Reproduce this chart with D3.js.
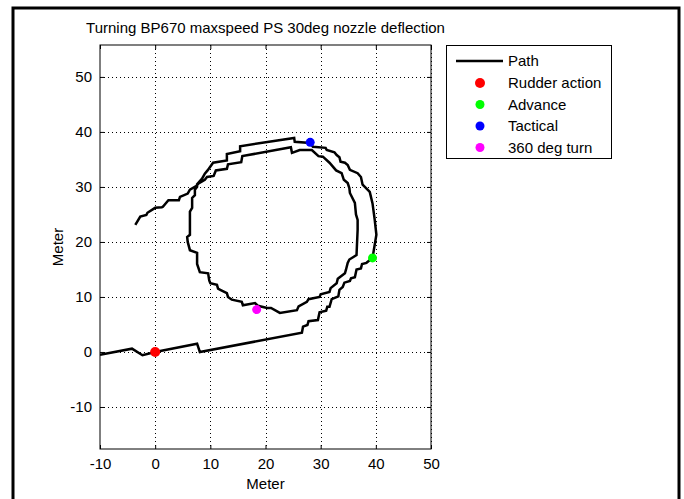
<!DOCTYPE html>
<html>
<head>
<meta charset="utf-8">
<script src="https://cdn.jsdelivr.net/npm/d3@7"></script>
<style>
  body { margin: 0; background: #fff; }
  svg text { font-family: "Liberation Sans", Arial, sans-serif; fill: #000; }
</style>
</head>
<body>
<div id="chart"></div>
<script>
// path of the ship, in metres (x, y)
var pathX = [-10, -4.2, -2.3, 0, 7.6, 8.1, 26.6, 26.8, 27.6, 27.8, 29.5, 29.8, 31, 31.2, 31.6, 32, 33.2, 33.4, 34, 34.3, 35.3, 35.5, 36.2, 36.5, 37.3, 37.5, 38.3, 39.4,
  40.1, 39.8, 39.4, 38.9, 37.6, 37.3, 36.7, 35.3, 34.9, 34.4, 33.6, 33.4, 32.9, 32.5, 31.1, 30.9, 28.6, 28.1, 25.3, 25.2, 15.4, 15.4, 13, 13, 10.5, 9.5, 9, 8.5, 7.6, 7.6, 7.2, 7.2, 6.7, 6.7, 6.3, 6.3, 5.8, 5.9, 6.3, 7.6, 7.6, 8.1, 9.6, 9.8, 10, 11.2, 11.4, 11.8, 13, 13.2, 13.9, 15.7, 15.9, 18.1, 18.6, 20.3, 21, 22.6, 25.7, 26, 27.5, 27.8, 29.8, 30, 31.6, 31.8, 32.9, 33.1, 34.4, 34.6, 34.9, 35.2, 36.5, 36.7, 36.7, 36.4, 36.2, 35.3, 35.2, 34.9, 34.2, 33.8, 32.8, 31.6, 30.4, 29.6, 28.4, 26.2, 24.8, 24.6, 15.8, 15.6, 13.2, 13, 11, 10.6, 9.4, 9, 7.8, 7.5, 6.3, 5.9, 4.5, 4.3, 2.4, 1.4, 1.2, 0, -1.4, -1.6, -2.7, -3.6];
var pathY = [-0.5, 0.6, -0.6, 0, 1.5, 0, 3.5, 4.6, 4.9, 5.6, 5.8, 7.2, 7.5, 8.2, 8.2, 9.6, 10.1, 11.3, 11.8, 12.6, 12.9, 13.4, 13.6, 15, 15.2, 16, 16.2, 17.1,
  21.3, 24, 27, 29.1, 30.4, 31.8, 32.5, 33.1, 34, 34.4, 34.6, 35.4, 35.8, 36.3, 36.7, 37.1, 37.3, 38, 38.2, 38.9, 37.4, 36.5, 36, 34.8, 34.4, 33, 32.4, 31.5, 30.5, 30, 29.5, 28.5, 28, 26.2, 25.5, 21.3, 20.9, 20, 18.5, 18, 16, 14.5, 14.3, 13, 12.5, 12.2, 11.5, 11.3, 10.7, 10, 9.5, 9.1, 8.5, 8.9, 8.4, 8, 8, 7.1, 7.6, 8.3, 9.1, 9.6, 10, 10.5, 10.9, 11.6, 12.5, 13.3, 14.3, 15, 16.2, 16.8, 17.6, 22.2, 24, 25, 27.1, 28.9, 29.8, 30.7, 31.3, 32.5, 33, 34.4, 35.5, 35.6, 36.7, 36.7, 36.2, 37.2, 35.6, 34.5, 34.1, 33.3, 33, 32, 31.8, 31.3, 30.6, 30.2, 29.5, 28.8, 28.2, 27.6, 27.6, 26.4, 26.3, 26.2, 25.3, 24.9, 24.6, 23.1];

var eventNames = ["Rudder action", "Advance", "Tactical", "360 deg turn"];
var eventX = [0, 39.4, 28.1, 18.4];
var eventY = [0, 17.1, 38.1, 7.7];
var eventColors = ["#ff0000", "#00ff00", "#0000ff", "#ff00ff"];

var xTicks = [-10, 0, 10, 20, 30, 40, 50];
var yTicks = [-10, 0, 10, 20, 30, 40, 50];

var W = 684, H = 499, FS = "15px";
var svg = d3.select("#chart").append("svg").attr("width", W).attr("height", H);

// figure frame
svg.append("rect").attr("x", 13).attr("y", 8).attr("width", 666).attr("height", 500)
  .attr("fill", "#fff").attr("stroke", "#000").attr("stroke-width", 3);

var pL = 100, pR = 431, pT = 45, pB = 449;
var x = d3.scaleLinear().domain([-10, 50]).range([pL, pR]);
var y = d3.scaleLinear().domain([-17.64, 55.8]).range([pB, pT]);
var fmt = function(d) { return String(d); };

// grid
var grid = svg.append("g");
grid.selectAll(".gx").data(xTicks.slice(1)).enter().append("line")
  .attr("x1", d => Math.round(x(d)) + 0.5).attr("x2", d => Math.round(x(d)) + 0.5).attr("y1", pT).attr("y2", pB)
  .attr("stroke", "#000").attr("stroke-width", 1).attr("stroke-dasharray", "1,3");
grid.selectAll(".gy").data(yTicks).enter().append("line")
  .attr("y1", d => Math.round(y(d)) + 0.5).attr("y2", d => Math.round(y(d)) + 0.5).attr("x1", pL).attr("x2", pR)
  .attr("stroke", "#000").attr("stroke-width", 1).attr("stroke-dasharray", "1,3");

svg.append("clipPath").attr("id", "plotclip").append("rect")
  .attr("x", pL).attr("y", pT).attr("width", pR - pL).attr("height", pB - pT);

// axes with inward ticks on all sides
var gxB = svg.append("g").attr("transform", "translate(0," + pB + ")")
  .call(d3.axisBottom(x).tickValues(xTicks).tickSizeInner(-4).tickSizeOuter(0).tickPadding(9).tickFormat(fmt));
var gxT = svg.append("g").attr("transform", "translate(0," + pT + ")")
  .call(d3.axisTop(x).tickValues(xTicks).tickSizeInner(-4).tickSizeOuter(0).tickFormat(""));
var gyL = svg.append("g").attr("transform", "translate(" + pL + ",0)")
  .call(d3.axisLeft(y).tickValues(yTicks).tickSizeInner(-4).tickSizeOuter(0).tickPadding(8).tickFormat(fmt));
var gyR = svg.append("g").attr("transform", "translate(" + pR + ",0)")
  .call(d3.axisRight(y).tickValues(yTicks).tickSizeInner(-4).tickSizeOuter(0).tickFormat(""));
[gxB, gxT, gyL, gyR].forEach(function(g) {
  g.select(".domain").remove();
  g.selectAll("line").attr("stroke", "#000");
  g.selectAll("text").style("font-size", FS).style("font-family", "Liberation Sans, Arial, sans-serif");
});
svg.append("rect").attr("x", pL).attr("y", pT).attr("width", pR - pL).attr("height", pB - pT)
  .attr("fill", "none").attr("stroke", "#000").attr("stroke-width", 1);

// path
var pts = pathX.map((d, i) => [d, pathY[i]]);
svg.append("path").datum(pts)
  .attr("clip-path", "url(#plotclip)")
  .attr("d", d3.line().x(d => x(d[0])).y(d => y(d[1])))
  .attr("fill", "none").attr("stroke", "#000").attr("stroke-width", 2.5).attr("stroke-linejoin", "miter");

// event markers
svg.selectAll(".ev").data(eventNames).enter().append("circle")
  .attr("cx", (d, i) => x(eventX[i])).attr("cy", (d, i) => y(eventY[i]))
  .attr("r", (d, i) => i === 0 ? 5 : 4.5)
  .attr("fill", (d, i) => eventColors[i]);

// titles
svg.append("text").attr("x", (pL + pR) / 2).attr("y", 33).attr("text-anchor", "middle")
  .style("font-size", FS).text("Turning BP670 maxspeed PS 30deg nozzle deflection");
svg.append("text").attr("x", (pL + pR) / 2).attr("y", 489).attr("text-anchor", "middle")
  .style("font-size", FS).text("Meter");
svg.append("text").attr("transform", "translate(63," + ((pT + pB) / 2) + ") rotate(-90)")
  .attr("text-anchor", "middle").style("font-size", FS).text("Meter");

// legend
var lg = svg.append("g");
lg.append("rect").attr("x", 446.5).attr("y", 45.5).attr("width", 165).attr("height", 113)
  .attr("fill", "#fff").attr("stroke", "#000").attr("stroke-width", 1);
lg.append("line").attr("x1", 456).attr("x2", 503).attr("y1", 61).attr("y2", 61)
  .attr("stroke", "#000").attr("stroke-width", 2.5);
lg.append("text").attr("x", 508).attr("y", 66).style("font-size", FS).text("Path");
lg.selectAll(".li").data(eventNames).enter().append("g").each(function(d, i) {
  var gy = 83 + i * 21.5;
  d3.select(this).append("circle").attr("cx", 480).attr("cy", gy).attr("r", i === 0 ? 5 : 4.5).attr("fill", eventColors[i]);
  d3.select(this).append("text").attr("x", 508).attr("y", gy + 5).style("font-size", FS).text(d);
});
</script>
</body>
</html>
